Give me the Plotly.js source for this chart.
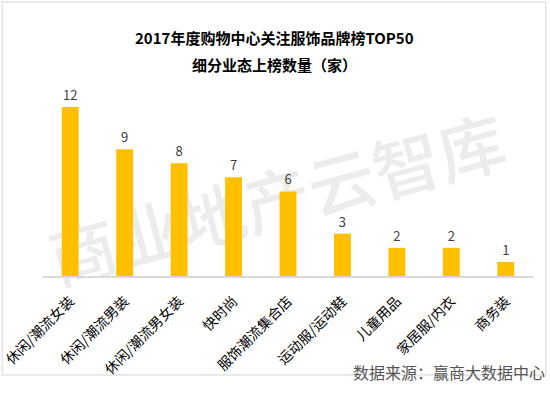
<!DOCTYPE html>
<html><head><meta charset="utf-8">
<script src="https://cdn.plot.ly/plotly-3.0.1.min.js"></script>
<style>
html,body{margin:0;padding:0;background:#fff}
#wrap{position:relative;width:550px;height:397px;overflow:hidden}
#wm{position:absolute;left:276px;top:196px;transform:translate(-50%,-50%) rotate(-15deg);
  font-family:"Noto Sans CJK SC",sans-serif;font-weight:500;font-size:67px;color:#ececec;
  white-space:nowrap;letter-spacing:0px;z-index:0}
#c{position:absolute;left:0;top:0;width:550px;height:397px;z-index:1}
</style>
</head><body><div id="wrap"><div id="wm"></div><div id="c"></div></div>
<script>
const categories = ["休闲/潮流女装","休闲/潮流男装","休闲/潮流男女装","快时尚","服饰潮流集合店","运动服/运动鞋","儿童用品","家居服/内衣","商务装"];
const counts = [12, 9, 8, 7, 6, 3, 2, 2, 1];
const titleLine1 = "2017年度购物中心关注服饰品牌榜TOP50";
const titleLine2 = "细分业态上榜数量（家）";
const sourceText = "数据来源：赢商大数据中心";
const watermark = "商业地产云智库";

document.getElementById('wm').textContent = watermark;

const CJK = '"Noto Sans CJK SC", "Noto Sans", sans-serif';
const L = 42.75, R = 16.75, T = 90, B = 121;
const W = 550, H = 397;
const pw = W - L - R, ph = H - T - B;
const px = x => (x - L) / pw;
const py = y => (H - B - y) / ph;

const trace = {
  type: 'bar', x: categories, y: counts,
  marker: {color: '#FFC000'},
  text: counts.map(String), textposition: 'outside',
  textfont: {family: CJK, size: 13, color: '#404040'},
  cliponaxis: false, hoverinfo: 'none'
};

const layout = {
  width: W, height: H,
  margin: {l: L, r: R, t: T, b: B, pad: 0},
  paper_bgcolor: 'rgba(0,0,0,0)', plot_bgcolor: 'rgba(0,0,0,0)',
  bargap: 0.69, showlegend: false,
  xaxis: {
    type: 'category', showgrid: false, zeroline: false,
    showline: true, linecolor: '#d9d9d9', linewidth: 1.5,
    ticks: '', tickangle: -45, ticklabelstandoff: 10,
    tickfont: {family: CJK, size: 14, color: '#000'}
  },
  yaxis: {range: [0, 13.2], visible: false, showgrid: false, zeroline: false},
  annotations: [
    {text: titleLine1, xref: 'paper', yref: 'paper', x: px(274), y: py(25), showarrow: false,
     font: {family: CJK, size: 15, color: '#000', weight: 'bold'}},
    {text: titleLine2, xref: 'paper', yref: 'paper', x: px(274), y: py(52), showarrow: false,
     font: {family: CJK, size: 15, color: '#000', weight: 'bold'}},
    {text: sourceText, xref: 'paper', yref: 'paper', x: px(547), y: py(386), xanchor: 'right', showarrow: false,
     font: {family: CJK, size: 16, color: '#555555'}}
  ],
  shapes: [
    {type: 'rect', xref: 'paper', yref: 'paper', x0: px(2), x1: px(546), y0: py(2), y1: py(375),
     line: {color: '#e3e3e3', width: 1.5}}
  ]
};
Plotly.newPlot('c', [trace], layout, {staticPlot: true});
</script></body></html>
